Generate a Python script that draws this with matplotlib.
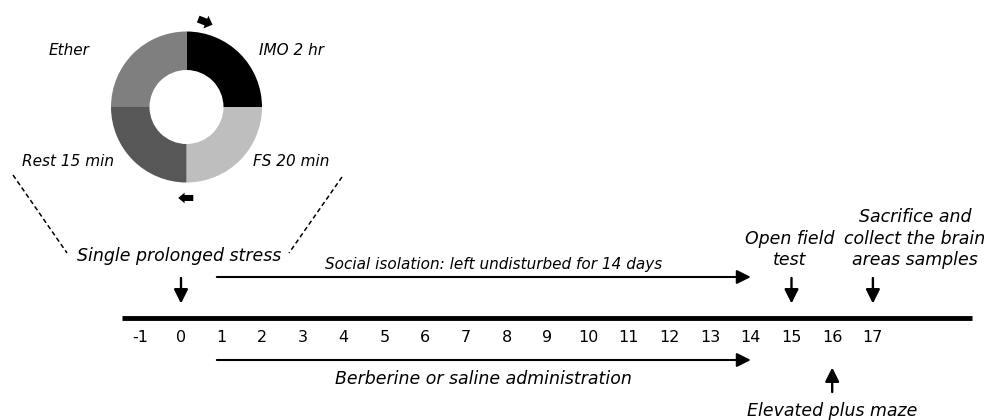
import matplotlib
matplotlib.use("Agg")
import matplotlib.pyplot as plt
from matplotlib.patches import FancyArrow

# ---------------- data ----------------
days = list(range(-1, 18))
day_labels = [str(d) for d in days]

ring_labels = ["IMO 2 hr", "FS 20 min", "Rest 15 min", "Ether"]
ring_values = [1, 1, 1, 1]
ring_colors = ["#000000", "#bebebe", "#575757", "#7f7f7f"]

span_labels = ["Social isolation: left undisturbed for 14 days",
               "Berberine or saline administration"]
span_start = [1, 1]
span_end = [14, 14]

above_labels = ["Single prolonged stress", "Open field\ntest",
                "Sacrifice and\ncollect the brain\nareas samples"]
above_days = [0, 15, 17]
below_labels = ["Elevated plus maze"]
below_days = [16]

# ---------------- layout helpers ----------------
W, H = 988, 420
PX0, PXD = 181.0, 40.7          # pixel of day 0, pixels per day


def px2day(px):
    return (px - PX0) / PXD


fig = plt.figure(figsize=(W / 100, H / 100), dpi=100)
ax = fig.add_axes([0, 0, 1, 1])
ax.set_xlim(px2day(0), px2day(W))
ax.set_ylim(H, 0)
ax.axis("off")

FONT = "DejaVu Sans"
ARROW = dict(arrowstyle="-|>", color="black", mutation_scale=21,
             shrinkA=0, shrinkB=0)

# timeline
ax.plot([px2day(122), px2day(972)], [318, 318], color="black", lw=3.5,
        solid_capstyle="butt")
for d, lab in zip(days, day_labels):
    ax.text(d, 342, lab, ha="center", va="baseline", fontsize=11.5,
            family=FONT)

# horizontal span arrows
span_y = [277, 360]
span_text_y = [269, 384]
span_text_x = [494, 483]
span_fs = [11, 12.5]
for lab, s, e, y, ty, tx, fs in zip(span_labels, span_start, span_end,
                                    span_y, span_text_y, span_text_x, span_fs):
    ax.annotate("", xy=(e, y), xytext=(s - 0.12, y),
                arrowprops=dict(ARROW, lw=1.5))
    ax.text(px2day(tx), ty, lab, ha="center", va="baseline", fontsize=fs,
            style="italic", family=FONT)

# event arrows above
for d in above_days:
    ax.annotate("", xy=(d, 303.5), xytext=(d, 278),
                arrowprops=dict(ARROW, lw=1.7))
# event arrows below
for d in below_days:
    ax.annotate("", xy=(d, 367.5), xytext=(d, 392),
                arrowprops=dict(ARROW, lw=1.7))

# labels above
above_pos = [(179, 261), (790, 243.5), (915, 222.5)]
for lab, (tx, ty) in zip(above_labels, above_pos):
    for i, line in enumerate(lab.split("\n")):
        ax.text(px2day(tx), ty + i * 21.3, line, ha="center", va="baseline",
                fontsize=12.5, style="italic", family=FONT)
below_pos = [(832, 416)]
for lab, (tx, ty) in zip(below_labels, below_pos):
    ax.text(px2day(tx), ty, lab, ha="center", va="baseline", fontsize=12.5,
            style="italic", family=FONT)

# dashed zoom lines
ax.plot([px2day(13), px2day(67)], [175, 253], color="black", lw=1.1,
        ls=(0, (3, 2)))
ax.plot([px2day(342), px2day(289)], [177, 253], color="black", lw=1.1,
        ls=(0, (3, 2)))

# ring labels
ring_pos = [(291.5, 55), (291, 166.5), (68, 166.5), (69, 55)]
for lab, (tx, ty) in zip(ring_labels, ring_pos):
    ax.text(px2day(tx), ty, lab, ha="center", va="baseline", fontsize=11,
            style="italic", family=FONT)

# donut
cx, cy, R = 186.5, 107, 75.5
L = 1.35
dax = fig.add_axes([(cx - L * R) / W, (H - cy - L * R) / H,
                    2 * L * R / W, 2 * L * R / H])
dax.pie(ring_values, colors=ring_colors, startangle=90, counterclock=False,
        radius=1, wedgeprops=dict(width=0.51, linewidth=0))
dax.set_xlim(-L, L)
dax.set_ylim(-L, L)
dax.set_aspect("equal")
dax.axis("off")
dax.add_patch(FancyArrow(0.155, 1.165, 0.19, -0.075, width=0.095,
                         head_width=0.18, head_length=0.095,
                         length_includes_head=True, color="black", lw=0))
dax.add_patch(FancyArrow(0.09, -1.205, -0.2, 0.0, width=0.08,
                         head_width=0.14, head_length=0.085,
                         length_includes_head=True, color="black", lw=0))

fig.savefig("out.png", dpi=100)
